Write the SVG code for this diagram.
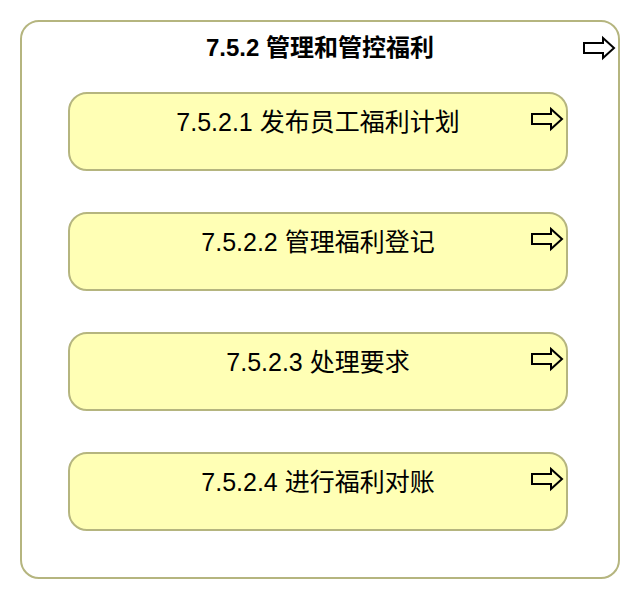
<svg xmlns="http://www.w3.org/2000/svg" width="640" height="600" viewBox="0 0 640 600">
<style>
.outer{fill:#ffffff;stroke:#b5b57f;stroke-width:2}
.box{fill:#ffffb5;stroke:#b5b57f;stroke-width:2}
.arrow{fill:none;stroke:#000000;stroke-width:2;stroke-linejoin:miter}
.title{font-family:"Liberation Sans","Noto Sans CJK SC",sans-serif;font-size:24px;font-weight:bold;fill:#000000;text-anchor:middle}
.label{font-family:"Liberation Sans","Noto Sans CJK SC",sans-serif;font-size:25px;fill:#000000;text-anchor:middle}
</style>
<defs>
<path id="arr" class="arrow" d="M0,-5 L19,-5 L19,-10 L30,0 L19,10 L19,5 L0,5 Z"/>
</defs>
<g id="node-7.5.2">
<rect class="outer" x="21" y="21" width="598" height="557" rx="18" ry="18"/>
<text class="title" x="320" y="56">7.5.2 管理和管控福利</text>
<use href="#arr" x="584" y="48"/>
</g>
<g id="node-7.5.2.1">
<rect class="box" x="69" y="93" width="498" height="77" rx="18" ry="18"/>
<text class="label" x="318" y="131">7.5.2.1 发布员工福利计划</text>
<use href="#arr" x="532" y="119"/>
</g>
<g id="node-7.5.2.2">
<rect class="box" x="69" y="213" width="498" height="77" rx="18" ry="18"/>
<text class="label" x="318" y="251">7.5.2.2 管理福利登记</text>
<use href="#arr" x="532" y="239"/>
</g>
<g id="node-7.5.2.3">
<rect class="box" x="69" y="333" width="498" height="77" rx="18" ry="18"/>
<text class="label" x="318" y="371">7.5.2.3 处理要求</text>
<use href="#arr" x="532" y="359"/>
</g>
<g id="node-7.5.2.4">
<rect class="box" x="69" y="453" width="498" height="77" rx="18" ry="18"/>
<text class="label" x="318" y="491">7.5.2.4 进行福利对账</text>
<use href="#arr" x="532" y="479"/>
</g>
<g id="connectors"/>
</svg>
